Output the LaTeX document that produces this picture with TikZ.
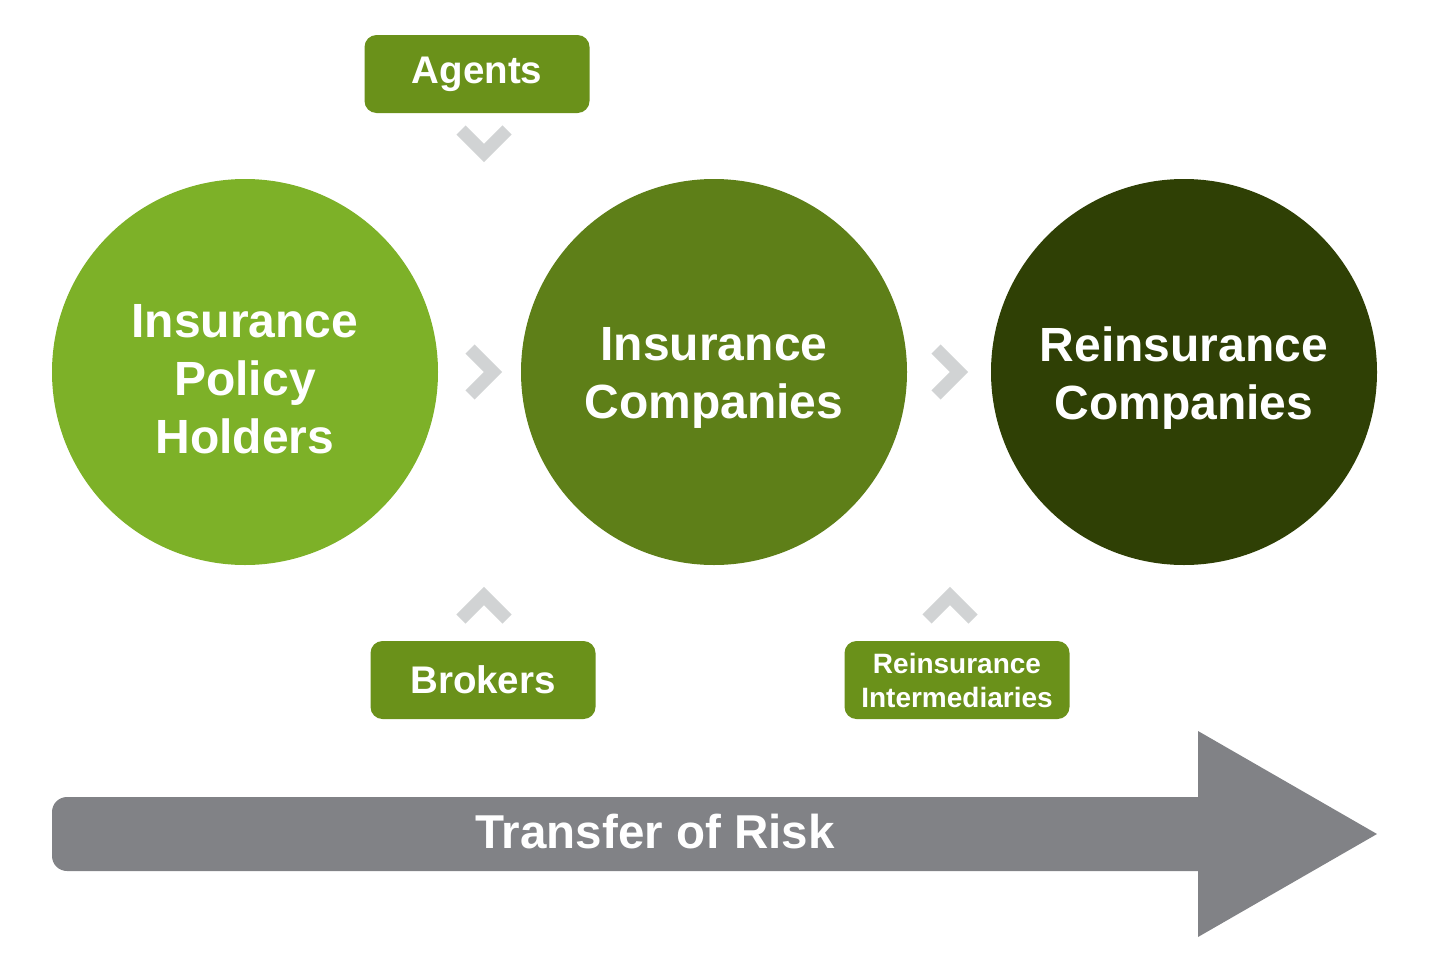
\documentclass[tikz,border=0pt]{standalone}
\usepackage{fontspec}
\setmainfont{Liberation Sans}
\usetikzlibrary{positioning,calc}
\definecolor{holdgreen}{RGB}{125,177,40}
\definecolor{compgreen}{RGB}{94,127,24}
\definecolor{reingreen}{RGB}{47,64,5}
\definecolor{boxgreen}{RGB}{106,145,26}
\definecolor{chevgray}{RGB}{209,211,212}
\definecolor{riskgray}{RGB}{129,130,134}

\begin{document}
\begin{tikzpicture}[x=1pt, y=-1pt,
  circ/.style={circle, minimum size=386pt, inner sep=0pt},
  circtext/.style={text=white, align=center, font=\bfseries\fontsize{48}{58}\selectfont},
  tag/.style={fill=boxgreen, rounded corners=12pt, minimum width=225pt, minimum height=78pt,
              inner sep=0pt, text=white, align=center},
  chev/.style={draw=chevgray, line width=13pt, line join=miter, miter limit=10}
]
  \useasboundingbox (0,0) rectangle (1429,972);
  % the three parties
  \node[circ, fill=holdgreen] (holders) at (245,372) {};
  \node[circ, fill=compgreen] (insco) at (714,372) {};
  \node[circ, fill=reingreen] (reinco) at (1184,372) {};
  \node[circtext] (holderstxt) at ([yshift=-7pt]holders.center) {Insurance\\Policy\\Holders};
  \node[circtext] (inscotxt) at ([yshift=-6pt]insco.center) {Insurance\\Companies};
  \node[circtext] (reincotxt) at ([yshift=-6pt]reinco.center) {Reinsurance\\Companies};
  % go-betweens
  \node[tag, font=\bfseries\fontsize{38.5}{46}\selectfont] (agents) at (477,74) {Agents};
  \node[tag, font=\bfseries\fontsize{38.5}{46}\selectfont] (brokers) at (483,680) {Brokers};
  \node[tag, font=\bfseries\fontsize{28}{34}\selectfont] (interm) at (957,680) {Reinsurance\\Intermediaries};
  % chevrons
  \draw[chev] (470,349) -- (493,372) -- (470,395);
  \draw[chev] (936,349) -- (959,372) -- (936,395);
  \draw[chev] (461,130) -- (484,153) -- (507,130);
  \draw[chev] (461,619) -- (484,596) -- (507,619);
  \draw[chev] (927,619) -- (950,596) -- (973,619);
  % risk arrow
  \fill[riskgray] (1198,797) [rounded corners=15pt] -- (52,797) -- (52,871)
    [sharp corners] -- (1198,871) -- (1198,937) -- (1377,834) -- (1198,731) -- cycle;
  \node[text=white, font=\bfseries\fontsize{47.5}{56}\selectfont] (risk) at (655,832) {Transfer of Risk};
\end{tikzpicture}
\end{document}
